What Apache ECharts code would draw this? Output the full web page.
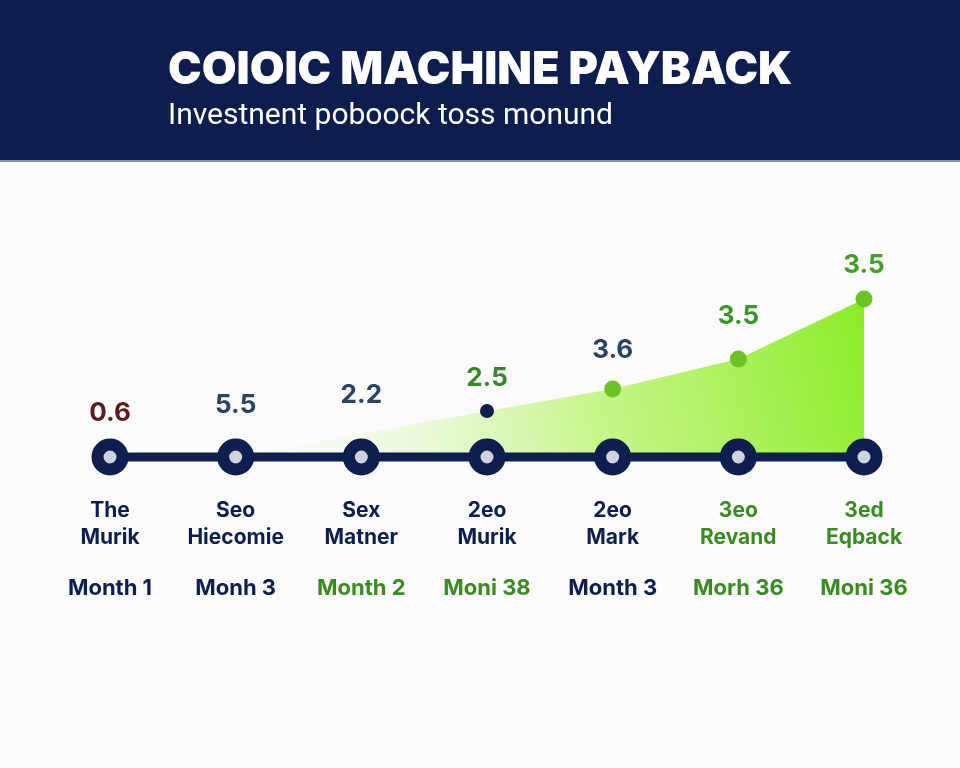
<!DOCTYPE html>
<html>
<head>
<meta charset="utf-8">
<script src="https://cdn.jsdelivr.net/npm/echarts@6/dist/echarts.min.js"></script>
<style>
  html, body { margin: 0; padding: 0; background: #fbfbfc; }
  #main { width: 960px; height: 768px; }
</style>
</head>
<body>
<div id="main"></div>
<script>
// data
var stageNames = ['The\nMurik', 'Seo\nHiecomie', 'Sex\nMatner', '2eo\nMurik', '2eo\nMark', '3eo\nRevand', '3ed\nEqback'];
var monthLabels = ['Month 1', 'Monh 3', 'Month 2', 'Moni 38', 'Month 3', 'Morh 36', 'Moni 36'];
var valueLabels = ['0.6', '5.5', '2.2', '2.5', '3.6', '3.5', '3.5'];
var labelLevels = [1.1, 1.3, 1.55, 1.98, 2.68, 3.53, 4.8];
var paybackCurve = [null, 0, 0.58, 1.15, 1.7, 2.45, 3.95];
var timeline = [0, 0, 0, 0, 0, 0, 0];

// colours
var NAVY = '#0d1e4f';
var GREEN = '#3a8c22';
var nameTone = ['n', 'n', 'n', 'n', 'n', 'g', 'g'];
var monthTone = ['n', 'n', 'g', 'g', 'n', 'g', 'g'];
var valueColors = ['#5a1c1f', '#2b4262', '#2b4262', '#358a27', '#2b4262', '#3a9624', '#42a026'];

(function () {
  var myChart = echarts.init(document.getElementById('main'));

  var curveData = paybackCurve.map(function (v, i) {
    if (i < 3) return { value: v, symbolSize: 0 };
    if (i === 3) return { value: v, symbolSize: 14, itemStyle: { color: NAVY } };
    return { value: v, symbolSize: 17, itemStyle: { color: '#6cc424' } };
  });

  var labelData = labelLevels.map(function (v, i) {
    return { value: v, label: { color: valueColors[i] } };
  });

  var option = {
    animation: false,
    backgroundColor: '#fbfbfc',
    graphic: [
      { type: 'rect', shape: { x: 0, y: 0, width: 960, height: 160 }, style: { fill: '#0c1d4e' }, z: -1 },
      { type: 'rect', shape: { x: 0, y: 160, width: 960, height: 2 }, style: { fill: '#8a93ad' }, z: -1 }
    ],
    title: {
      text: 'COIOIC MACHINE PAYBACK',
      subtext: 'Investnent poboock toss monund',
      left: 163,
      top: 40,
      itemGap: 4,
      textStyle: {
        color: '#ffffff',
        fontFamily: 'Inter',
        fontWeight: 900,
        fontSize: 45,
        lineHeight: 50
      },
      subtextStyle: {
        color: '#ffffff',
        fontFamily: 'Roboto',
        fontWeight: 'normal',
        fontSize: 30,
        lineHeight: 34
      }
    },
    grid: { left: 110, right: 96, top: 257, bottom: 311 },
    xAxis: {
      type: 'category',
      boundaryGap: false,
      data: stageNames,
      axisLine: { show: false },
      axisTick: { show: false },
      axisLabel: {
        margin: 40,
        interval: 0,
        formatter: function (val, idx) {
          var parts = val.split('\n');
          var n = nameTone[idx], m = monthTone[idx];
          return '{' + n + '|' + parts[0] + '}\n{' + n + '|' + parts[1] + '}\n{gap|}\n{' + m + 'm|' + monthLabels[idx] + '}';
        },
        rich: {
          n: { color: NAVY, fontFamily: 'Inter', fontWeight: 700, fontSize: 21, lineHeight: 27 },
          g: { color: GREEN, fontFamily: 'Inter', fontWeight: 700, fontSize: 21, lineHeight: 27 },
          gap: { lineHeight: 24 },
          nm: { color: NAVY, fontFamily: 'Inter', fontWeight: 700, fontSize: 22, lineHeight: 27 },
          gm: { color: GREEN, fontFamily: 'Inter', fontWeight: 700, fontSize: 22, lineHeight: 27 }
        }
      }
    },
    yAxis: {
      type: 'value',
      min: 0,
      max: 5,
      show: false,
      splitLine: { show: false }
    },
    series: [
      {
        name: 'payback',
        type: 'line',
        data: curveData,
        symbol: 'circle',
        showSymbol: true,
        clip: false,
        z: 2,
        lineStyle: { width: 0 },
        areaStyle: {
          opacity: 1,
          color: new echarts.graphic.LinearGradient(1, 0, 0, 1, [
            { offset: 0, color: 'rgba(140,236,40,1)' },
            { offset: 0.45, color: 'rgba(186,244,110,0.8)' },
            { offset: 1, color: 'rgba(235,250,220,0)' }
          ])
        }
      },
      {
        name: 'timeline',
        type: 'line',
        data: timeline,
        symbol: 'circle',
        symbolSize: 25,
        clip: false,
        z: 3,
        lineStyle: { color: NAVY, width: 9 },
        itemStyle: { color: '#cfd3de', borderColor: NAVY, borderWidth: 12 }
      },
      {
        name: 'values',
        type: 'scatter',
        data: labelData,
        symbolSize: 0,
        z: 4,
        itemStyle: { opacity: 1 },
        label: {
          show: true,
          position: 'inside',
          fontFamily: 'Inter',
          fontWeight: 700,
          fontSize: 26,
          formatter: function (p) { return valueLabels[p.dataIndex]; }
        }
      }
    ]
  };

  myChart.setOption(option);
})();
</script>
</body>
</html>
